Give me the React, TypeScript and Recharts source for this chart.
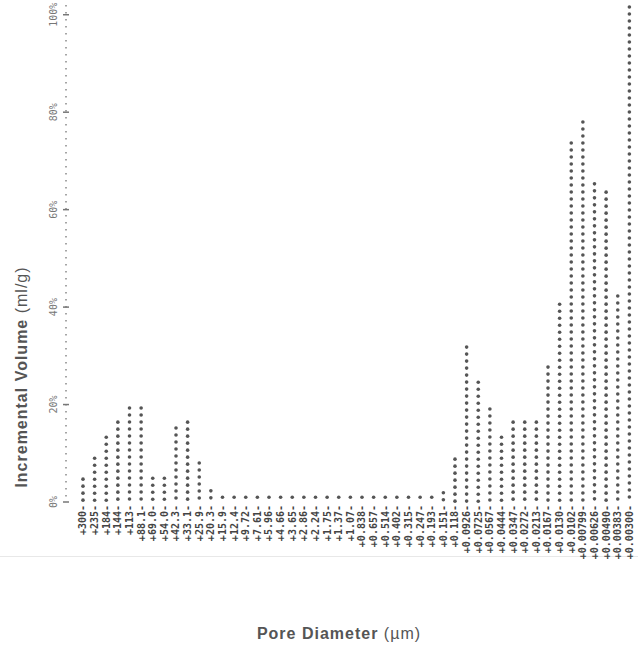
import React from 'react';
import { BarChart, Bar, XAxis, YAxis } from 'recharts';

const poreDiameters: string[] = [
  '300', '235', '184', '144', '113', '88.1', '69.0', '54.0', '42.3', '33.1',
  '25.9', '20.3', '15.9', '12.4', '9.72', '7.61', '5.96', '4.66', '3.65', '2.86',
  '2.24', '1.75', '1.37', '1.07', '0.838', '0.657', '0.514', '0.402', '0.315', '0.247',
  '0.193', '0.151', '0.118', '0.0926', '0.0725', '0.0567', '0.0444', '0.0347', '0.0272', '0.0213',
  '0.0167', '0.0130', '0.0102', '0.00799', '0.00626', '0.00490', '0.00383', '0.00300',
];

const incrementalVolume: number[] = [
  5.1, 9.4, 13.7, 16.8, 19.7, 19.7, 5.3, 5.3, 15.6, 16.8,
  8.4, 2.7, 1.4, 1.4, 1.4, 1.4, 1.4, 1.4, 1.4, 1.4,
  1.4, 1.4, 1.4, 1.4, 1.4, 1.4, 1.4, 1.4, 1.4, 1.4,
  1.4, 2.3, 9.2, 32.2, 25.0, 19.5, 13.7, 16.8, 16.8, 16.8,
  28.1, 41.0, 74.1, 78.4, 65.7, 64.0, 42.7, 102.0,
];

const percentTicks: number[] = [0, 20, 40, 60, 80, 100];

const data = poreDiameters.map((d, i) => ({ d, v: incrementalVolume[i] }));

const DotColumn = (props: any) => {
  const { x, y, width, height } = props;
  if (x == null || y == null) return null;
  const cx = x + width / 2;
  const bottom = y + height;
  const dots: React.ReactNode[] = [];
  for (let cy = y + 2; cy <= bottom + 0.5 || dots.length === 0; cy += 7) {
    dots.push(<circle key={cy} cx={cx} cy={cy} r={1.8} fill="#555" />);
    if (dots.length > 200) break;
  }
  return <g>{dots}</g>;
};

const CatTick = (props: any) => {
  const { x, payload } = props;
  const bx = x + 3.6;
  const by = 505;
  return (
    <text
      x={bx}
      y={by}
      transform={`rotate(-90 ${bx} ${by})`}
      textAnchor="end"
      fontFamily="DejaVu Sans Mono"
      fontWeight="bold"
      fontSize={10}
      fill="#444"
    >
      {`+${payload.value}-`}
    </text>
  );
};

const PctTick = (props: any) => {
  const { y, payload } = props;
  const bx = 57;
  return (
    <g>
      <line x1={63} x2={69} y1={y} y2={y} stroke="#777" strokeWidth={1.5} />
      <text
        x={bx}
        y={y}
        transform={`rotate(-90 ${bx} ${y})`}
        textAnchor="middle"
        fontFamily="DejaVu Sans Mono"
        fontSize={10}
        fill="#777"
      >
        {`${payload.value}%`}
      </text>
    </g>
  );
};

const XTitle = () => (
  <text x={339} y={639} textAnchor="middle" fontFamily="Liberation Sans, Arial, sans-serif" fontSize={16} fill="#555" letterSpacing={1}>
    <tspan fontWeight="bold">Pore Diameter </tspan>
    <tspan fontWeight="normal">(µm)</tspan>
  </text>
);

const YTitle = () => (
  <text
    x={27}
    y={377}
    transform="rotate(-90 27 377)"
    textAnchor="middle"
    fontFamily="Liberation Sans, Arial, sans-serif"
    fontSize={16}
    fill="#555"
    letterSpacing={1}
  >
    <tspan fontWeight="bold">Incremental Volume </tspan>
    <tspan fontWeight="normal">(ml/g)</tspan>
  </text>
);

export default function App() {
  return (
    <div style={{ position: 'absolute', left: 0, top: 0, width: 638, height: 645, background: '#fff' }}>
      <div style={{ position: 'absolute', left: 0, top: 556, width: 638, height: 1, background: '#e8e8e8' }} />
      <BarChart
        width={638}
        height={645}
        data={data}
        margin={{ top: 5, right: 3, bottom: 0, left: 0 }}
        barCategoryGap={2}
      >
        <XAxis
          dataKey="d"
          type="category"
          interval={0}
          height={143}
          tickLine={false}
          axisLine={false}
          padding={{ left: 11, right: 0 }}
          tick={(p: any) => <CatTick {...p} />}
          label={() => <XTitle />}
        />
        <YAxis
          width={66}
          domain={[0, 102]}
          ticks={percentTicks}
          tickLine={false}
          axisLine={{ stroke: '#888', strokeWidth: 1.5, strokeDasharray: '1.5 5.5' }}
          tick={(p: any) => <PctTick {...p} />}
          label={() => <YTitle />}
        />
        <Bar dataKey="v" isAnimationActive={false} shape={(p: any) => <DotColumn {...p} />} />
      </BarChart>
    </div>
  );
}
